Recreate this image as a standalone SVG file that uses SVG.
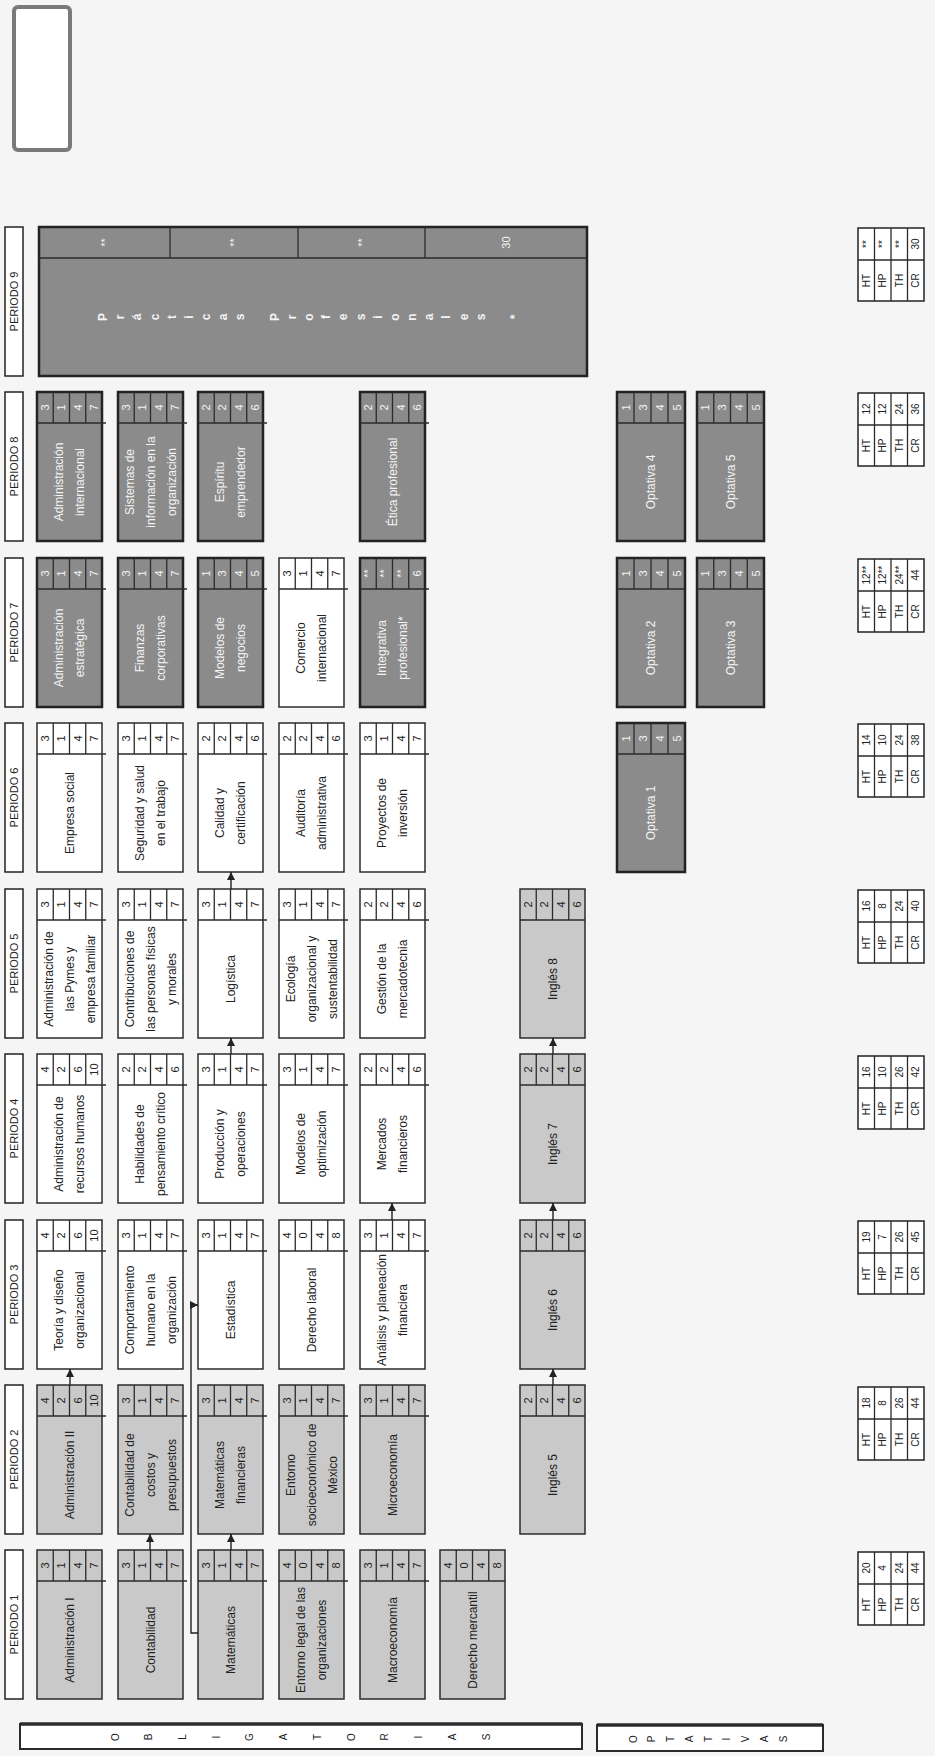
<svg xmlns="http://www.w3.org/2000/svg" width="935" height="1756" viewBox="0 0 935 1756">
<defs>
<style>
.bg{fill:#f5f5f5}
.bx{stroke:#2b2b2b;stroke-width:1.5}
.lt{fill:#c9c9c9}
.wt{fill:#ffffff}
.dk{fill:#8b8b8b;stroke:#232323;stroke-width:2.5}
.ln{stroke:#2b2b2b;stroke-width:1.3;fill:none}
.lbx{fill:#ffffff;stroke:#222;stroke-width:1.5}
text{font-family:"Liberation Sans",Arial,sans-serif;text-anchor:middle;dominant-baseline:central;fill:#222}
.n{font-size:11px}
.nm{font-size:12px}
.w{fill:#f4f4f4}
.pl{font-size:11px}
.sp{font-size:12px;font-weight:bold}
.ct{font-size:10px}
.conn{stroke:#222;stroke-width:1.4;fill:none;marker-end:url(#ah)}
</style>
<marker id="ah" markerWidth="8" markerHeight="8" refX="8" refY="4" orient="auto" markerUnits="userSpaceOnUse"><path d="M0,0 L8,4 L0,8 z" fill="#222"/></marker>
</defs>
<rect class="bg" x="0" y="0" width="935" height="1756"/>
<g id="marco-superior"><rect x="14" y="7" width="56" height="143" rx="4" fill="#ffffff" stroke="#7a7a7a" stroke-width="4"/></g>

<!-- Period labels -->
<g id="etiquetas-periodo">
<rect class="lbx" x="5" y="227" width="18" height="149"/><text class="pl" transform="translate(14 301.5) rotate(-90)">PERIODO 9</text>
<rect class="lbx" x="5" y="392" width="18" height="149"/><text class="pl" transform="translate(14 466.5) rotate(-90)">PERIODO 8</text>
<rect class="lbx" x="5" y="558" width="18" height="149"/><text class="pl" transform="translate(14 632.5) rotate(-90)">PERIODO 7</text>
<rect class="lbx" x="5" y="723" width="18" height="149"/><text class="pl" transform="translate(14 797.5) rotate(-90)">PERIODO 6</text>
<rect class="lbx" x="5" y="889" width="18" height="149"/><text class="pl" transform="translate(14 963.5) rotate(-90)">PERIODO 5</text>
<rect class="lbx" x="5" y="1054" width="18" height="149"/><text class="pl" transform="translate(14 1128.5) rotate(-90)">PERIODO 4</text>
<rect class="lbx" x="5" y="1220" width="18" height="149"/><text class="pl" transform="translate(14 1294.5) rotate(-90)">PERIODO 3</text>
<rect class="lbx" x="5" y="1385" width="18" height="149"/><text class="pl" transform="translate(14 1459.5) rotate(-90)">PERIODO 2</text>
<rect class="lbx" x="5" y="1550" width="18" height="149"/><text class="pl" transform="translate(14 1624.5) rotate(-90)">PERIODO 1</text>
</g>

<!-- PERIODO 9 -->
<g id="practicas-profesionales">
<rect class="dk" x="39" y="227" width="548" height="149"/>
<path class="ln" d="M39 258H587M170 227v31M298 227v31M425 227v31" stroke-width="1.8"/>
<text class="n w" transform="translate(104.5 242.5) rotate(-90)">**</text>
<text class="n w" transform="translate(234 242.5) rotate(-90)">**</text>
<text class="n w" transform="translate(361.5 242.5) rotate(-90)">**</text>
<text class="n w" transform="translate(506 242.5) rotate(-90)">30</text>
<text class="sp w" transform="translate(103 317) rotate(-90)">P</text>
<text class="sp w" transform="translate(120.2 317) rotate(-90)">r</text>
<text class="sp w" transform="translate(137.3 317) rotate(-90)">á</text>
<text class="sp w" transform="translate(154.5 317) rotate(-90)">c</text>
<text class="sp w" transform="translate(171.7 317) rotate(-90)">t</text>
<text class="sp w" transform="translate(188.8 317) rotate(-90)">i</text>
<text class="sp w" transform="translate(206 317) rotate(-90)">c</text>
<text class="sp w" transform="translate(223.2 317) rotate(-90)">a</text>
<text class="sp w" transform="translate(240.4 317) rotate(-90)">s</text>
<text class="sp w" transform="translate(274.7 317) rotate(-90)">P</text>
<text class="sp w" transform="translate(291.9 317) rotate(-90)">r</text>
<text class="sp w" transform="translate(309 317) rotate(-90)">o</text>
<text class="sp w" transform="translate(326.2 317) rotate(-90)">f</text>
<text class="sp w" transform="translate(343.4 317) rotate(-90)">e</text>
<text class="sp w" transform="translate(360.5 317) rotate(-90)">s</text>
<text class="sp w" transform="translate(377.7 317) rotate(-90)">i</text>
<text class="sp w" transform="translate(394.9 317) rotate(-90)">o</text>
<text class="sp w" transform="translate(412.1 317) rotate(-90)">n</text>
<text class="sp w" transform="translate(429.2 317) rotate(-90)">a</text>
<text class="sp w" transform="translate(446.4 317) rotate(-90)">l</text>
<text class="sp w" transform="translate(463.6 317) rotate(-90)">e</text>
<text class="sp w" transform="translate(480.7 317) rotate(-90)">s</text>
<text class="sp w" transform="translate(515 317) rotate(-90)">*</text>
</g>

<!-- PERIODO 8 -->
<g id="administracion-internacional">
<rect class="dk" x="37" y="392" width="65" height="149"/>
<path class="ln" d="M37 423h69M53.25 392v31M69.5 392v31M85.75 392v31" stroke-width="1.8"/>
<text class="n w" transform="translate(45.1 407.5) rotate(-90)">3</text><text class="n w" transform="translate(61.4 407.5) rotate(-90)">1</text><text class="n w" transform="translate(77.6 407.5) rotate(-90)">4</text><text class="n w" transform="translate(93.9 407.5) rotate(-90)">7</text>
<text class="nm w" transform="translate(59 482) rotate(-90)">Administración</text>
<text class="nm w" transform="translate(80 482) rotate(-90)">internacional</text>
</g>
<g id="sistemas-informacion">
<rect class="dk" x="118" y="392" width="65" height="149"/>
<path class="ln" d="M118 423h69M134.25 392v31M150.5 392v31M166.75 392v31" stroke-width="1.8"/>
<text class="n w" transform="translate(126.1 407.5) rotate(-90)">3</text><text class="n w" transform="translate(142.4 407.5) rotate(-90)">1</text><text class="n w" transform="translate(158.6 407.5) rotate(-90)">4</text><text class="n w" transform="translate(174.9 407.5) rotate(-90)">7</text>
<text class="nm w" transform="translate(129.5 482) rotate(-90)">Sistemas de</text>
<text class="nm w" transform="translate(150.5 482) rotate(-90)">información en la</text>
<text class="nm w" transform="translate(171.5 482) rotate(-90)">organización</text>
</g>
<g id="espiritu-emprendedor">
<rect class="dk" x="198" y="392" width="65" height="149"/>
<path class="ln" d="M198 423h69M214.25 392v31M230.5 392v31M246.75 392v31" stroke-width="1.8"/>
<text class="n w" transform="translate(206.1 407.5) rotate(-90)">2</text><text class="n w" transform="translate(222.4 407.5) rotate(-90)">2</text><text class="n w" transform="translate(238.6 407.5) rotate(-90)">4</text><text class="n w" transform="translate(254.9 407.5) rotate(-90)">6</text>
<text class="nm w" transform="translate(220 482) rotate(-90)">Espíritu</text>
<text class="nm w" transform="translate(241 482) rotate(-90)">emprendedor</text>
</g>
<g id="etica-profesional">
<rect class="dk" x="360" y="392" width="65" height="149"/>
<path class="ln" d="M360 423h69M376.25 392v31M392.5 392v31M408.75 392v31" stroke-width="1.8"/>
<text class="n w" transform="translate(368.1 407.5) rotate(-90)">2</text><text class="n w" transform="translate(384.4 407.5) rotate(-90)">2</text><text class="n w" transform="translate(400.6 407.5) rotate(-90)">4</text><text class="n w" transform="translate(416.9 407.5) rotate(-90)">6</text>
<text class="nm w" transform="translate(392.5 482) rotate(-90)">Ética profesional</text>
</g>
<g id="optativa-4">
<rect class="dk" x="617" y="392" width="68" height="149"/>
<path class="ln" d="M617 423h68M634 392v31M651 392v31M668 392v31" stroke-width="1.8"/>
<text class="n w" transform="translate(625.5 407.5) rotate(-90)">1</text><text class="n w" transform="translate(642.5 407.5) rotate(-90)">3</text><text class="n w" transform="translate(659.5 407.5) rotate(-90)">4</text><text class="n w" transform="translate(676.5 407.5) rotate(-90)">5</text>
<text class="nm w" transform="translate(651 482) rotate(-90)">Optativa 4</text>
</g>
<g id="optativa-5">
<rect class="dk" x="697" y="392" width="67" height="149"/>
<path class="ln" d="M697 423h67M713.75 392v31M730.5 392v31M747.25 392v31" stroke-width="1.8"/>
<text class="n w" transform="translate(705.4 407.5) rotate(-90)">1</text><text class="n w" transform="translate(722.1 407.5) rotate(-90)">3</text><text class="n w" transform="translate(738.9 407.5) rotate(-90)">4</text><text class="n w" transform="translate(755.6 407.5) rotate(-90)">5</text>
<text class="nm w" transform="translate(730.5 482) rotate(-90)">Optativa 5</text>
</g>

<!-- PERIODO 7 -->
<g id="administracion-estrategica">
<rect class="dk" x="37" y="558" width="65" height="149"/>
<path class="ln" d="M37 589h69M53.25 558v31M69.5 558v31M85.75 558v31" stroke-width="1.8"/>
<text class="n w" transform="translate(45.1 573.5) rotate(-90)">3</text><text class="n w" transform="translate(61.4 573.5) rotate(-90)">1</text><text class="n w" transform="translate(77.6 573.5) rotate(-90)">4</text><text class="n w" transform="translate(93.9 573.5) rotate(-90)">7</text>
<text class="nm w" transform="translate(59 648) rotate(-90)">Administración</text>
<text class="nm w" transform="translate(80 648) rotate(-90)">estratégica</text>
</g>
<g id="finanzas-corporativas">
<rect class="dk" x="118" y="558" width="65" height="149"/>
<path class="ln" d="M118 589h69M134.25 558v31M150.5 558v31M166.75 558v31" stroke-width="1.8"/>
<text class="n w" transform="translate(126.1 573.5) rotate(-90)">3</text><text class="n w" transform="translate(142.4 573.5) rotate(-90)">1</text><text class="n w" transform="translate(158.6 573.5) rotate(-90)">4</text><text class="n w" transform="translate(174.9 573.5) rotate(-90)">7</text>
<text class="nm w" transform="translate(140 648) rotate(-90)">Finanzas</text>
<text class="nm w" transform="translate(161 648) rotate(-90)">corporativas</text>
</g>
<g id="modelos-negocios">
<rect class="dk" x="198" y="558" width="65" height="149"/>
<path class="ln" d="M198 589h69M214.25 558v31M230.5 558v31M246.75 558v31" stroke-width="1.8"/>
<text class="n w" transform="translate(206.1 573.5) rotate(-90)">1</text><text class="n w" transform="translate(222.4 573.5) rotate(-90)">3</text><text class="n w" transform="translate(238.6 573.5) rotate(-90)">4</text><text class="n w" transform="translate(254.9 573.5) rotate(-90)">5</text>
<text class="nm w" transform="translate(220 648) rotate(-90)">Modelos de</text>
<text class="nm w" transform="translate(241 648) rotate(-90)">negocios</text>
</g>
<g id="comercio-internacional">
<rect class="bx wt" x="279" y="558" width="65" height="149"/>
<path class="ln" d="M279 589h69M295.25 558v31M311.5 558v31M327.75 558v31"/>
<text class="n" transform="translate(287.1 573.5) rotate(-90)">3</text><text class="n" transform="translate(303.4 573.5) rotate(-90)">1</text><text class="n" transform="translate(319.6 573.5) rotate(-90)">4</text><text class="n" transform="translate(335.9 573.5) rotate(-90)">7</text>
<text class="nm" transform="translate(301 648) rotate(-90)">Comercio</text>
<text class="nm" transform="translate(322 648) rotate(-90)">internacional</text>
</g>
<g id="integrativa-profesional">
<rect class="dk" x="360" y="558" width="65" height="149"/>
<path class="ln" d="M360 589h69M376.25 558v31M392.5 558v31M408.75 558v31" stroke-width="1.8"/>
<text class="n w" transform="translate(368.1 573.5) rotate(-90)">**</text><text class="n w" transform="translate(384.4 573.5) rotate(-90)">**</text><text class="n w" transform="translate(400.6 573.5) rotate(-90)">**</text><text class="n w" transform="translate(416.9 573.5) rotate(-90)">6</text>
<text class="nm w" transform="translate(382 648) rotate(-90)">Integrativa</text>
<text class="nm w" transform="translate(403 648) rotate(-90)">profesional*</text>
</g>
<g id="optativa-2">
<rect class="dk" x="617" y="558" width="68" height="149"/>
<path class="ln" d="M617 589h68M634 558v31M651 558v31M668 558v31" stroke-width="1.8"/>
<text class="n w" transform="translate(625.5 573.5) rotate(-90)">1</text><text class="n w" transform="translate(642.5 573.5) rotate(-90)">3</text><text class="n w" transform="translate(659.5 573.5) rotate(-90)">4</text><text class="n w" transform="translate(676.5 573.5) rotate(-90)">5</text>
<text class="nm w" transform="translate(651 648) rotate(-90)">Optativa 2</text>
</g>
<g id="optativa-3">
<rect class="dk" x="697" y="558" width="67" height="149"/>
<path class="ln" d="M697 589h67M713.75 558v31M730.5 558v31M747.25 558v31" stroke-width="1.8"/>
<text class="n w" transform="translate(705.4 573.5) rotate(-90)">1</text><text class="n w" transform="translate(722.1 573.5) rotate(-90)">3</text><text class="n w" transform="translate(738.9 573.5) rotate(-90)">4</text><text class="n w" transform="translate(755.6 573.5) rotate(-90)">5</text>
<text class="nm w" transform="translate(730.5 648) rotate(-90)">Optativa 3</text>
</g>

<!-- PERIODO 6 -->
<g id="empresa-social">
<rect class="bx wt" x="37" y="723" width="65" height="149"/>
<path class="ln" d="M37 754h69M53.25 723v31M69.5 723v31M85.75 723v31"/>
<text class="n" transform="translate(45.1 738.5) rotate(-90)">3</text><text class="n" transform="translate(61.4 738.5) rotate(-90)">1</text><text class="n" transform="translate(77.6 738.5) rotate(-90)">4</text><text class="n" transform="translate(93.9 738.5) rotate(-90)">7</text>
<text class="nm" transform="translate(69.5 813) rotate(-90)">Empresa social</text>
</g>
<g id="seguridad-salud">
<rect class="bx wt" x="118" y="723" width="65" height="149"/>
<path class="ln" d="M118 754h69M134.25 723v31M150.5 723v31M166.75 723v31"/>
<text class="n" transform="translate(126.1 738.5) rotate(-90)">3</text><text class="n" transform="translate(142.4 738.5) rotate(-90)">1</text><text class="n" transform="translate(158.6 738.5) rotate(-90)">4</text><text class="n" transform="translate(174.9 738.5) rotate(-90)">7</text>
<text class="nm" transform="translate(140 813) rotate(-90)">Seguridad y salud</text>
<text class="nm" transform="translate(161 813) rotate(-90)">en el trabajo</text>
</g>
<g id="calidad-certificacion">
<rect class="bx wt" x="198" y="723" width="65" height="149"/>
<path class="ln" d="M198 754h69M214.25 723v31M230.5 723v31M246.75 723v31"/>
<text class="n" transform="translate(206.1 738.5) rotate(-90)">2</text><text class="n" transform="translate(222.4 738.5) rotate(-90)">2</text><text class="n" transform="translate(238.6 738.5) rotate(-90)">4</text><text class="n" transform="translate(254.9 738.5) rotate(-90)">6</text>
<text class="nm" transform="translate(220 813) rotate(-90)">Calidad y</text>
<text class="nm" transform="translate(241 813) rotate(-90)">certificación</text>
</g>
<g id="auditoria-administrativa">
<rect class="bx wt" x="279" y="723" width="65" height="149"/>
<path class="ln" d="M279 754h69M295.25 723v31M311.5 723v31M327.75 723v31"/>
<text class="n" transform="translate(287.1 738.5) rotate(-90)">2</text><text class="n" transform="translate(303.4 738.5) rotate(-90)">2</text><text class="n" transform="translate(319.6 738.5) rotate(-90)">4</text><text class="n" transform="translate(335.9 738.5) rotate(-90)">6</text>
<text class="nm" transform="translate(301 813) rotate(-90)">Auditoría</text>
<text class="nm" transform="translate(322 813) rotate(-90)">administrativa</text>
</g>
<g id="proyectos-inversion">
<rect class="bx wt" x="360" y="723" width="65" height="149"/>
<path class="ln" d="M360 754h69M376.25 723v31M392.5 723v31M408.75 723v31"/>
<text class="n" transform="translate(368.1 738.5) rotate(-90)">3</text><text class="n" transform="translate(384.4 738.5) rotate(-90)">1</text><text class="n" transform="translate(400.6 738.5) rotate(-90)">4</text><text class="n" transform="translate(416.9 738.5) rotate(-90)">7</text>
<text class="nm" transform="translate(382 813) rotate(-90)">Proyectos de</text>
<text class="nm" transform="translate(403 813) rotate(-90)">inversión</text>
</g>
<g id="optativa-1">
<rect class="dk" x="617" y="723" width="68" height="149"/>
<path class="ln" d="M617 754h68M634 723v31M651 723v31M668 723v31" stroke-width="1.8"/>
<text class="n w" transform="translate(625.5 738.5) rotate(-90)">1</text><text class="n w" transform="translate(642.5 738.5) rotate(-90)">3</text><text class="n w" transform="translate(659.5 738.5) rotate(-90)">4</text><text class="n w" transform="translate(676.5 738.5) rotate(-90)">5</text>
<text class="nm w" transform="translate(651 813) rotate(-90)">Optativa 1</text>
</g>

<!-- PERIODO 5 -->
<g id="administracion-pymes">
<rect class="bx wt" x="37" y="889" width="65" height="149"/>
<path class="ln" d="M37 920h69M53.25 889v31M69.5 889v31M85.75 889v31"/>
<text class="n" transform="translate(45.1 904.5) rotate(-90)">3</text><text class="n" transform="translate(61.4 904.5) rotate(-90)">1</text><text class="n" transform="translate(77.6 904.5) rotate(-90)">4</text><text class="n" transform="translate(93.9 904.5) rotate(-90)">7</text>
<text class="nm" transform="translate(48.5 979) rotate(-90)">Administración de</text>
<text class="nm" transform="translate(69.5 979) rotate(-90)">las Pymes y</text>
<text class="nm" transform="translate(90.5 979) rotate(-90)">empresa familiar</text>
</g>
<g id="contribuciones">
<rect class="bx wt" x="118" y="889" width="65" height="149"/>
<path class="ln" d="M118 920h69M134.25 889v31M150.5 889v31M166.75 889v31"/>
<text class="n" transform="translate(126.1 904.5) rotate(-90)">3</text><text class="n" transform="translate(142.4 904.5) rotate(-90)">1</text><text class="n" transform="translate(158.6 904.5) rotate(-90)">4</text><text class="n" transform="translate(174.9 904.5) rotate(-90)">7</text>
<text class="nm" transform="translate(129.5 979) rotate(-90)">Contribuciones de</text>
<text class="nm" transform="translate(150.5 979) rotate(-90)">las personas físicas</text>
<text class="nm" transform="translate(171.5 979) rotate(-90)">y morales</text>
</g>
<g id="logistica">
<rect class="bx wt" x="198" y="889" width="65" height="149"/>
<path class="ln" d="M198 920h69M214.25 889v31M230.5 889v31M246.75 889v31"/>
<text class="n" transform="translate(206.1 904.5) rotate(-90)">3</text><text class="n" transform="translate(222.4 904.5) rotate(-90)">1</text><text class="n" transform="translate(238.6 904.5) rotate(-90)">4</text><text class="n" transform="translate(254.9 904.5) rotate(-90)">7</text>
<text class="nm" transform="translate(230.5 979) rotate(-90)">Logística</text>
</g>
<g id="ecologia-organizacional">
<rect class="bx wt" x="279" y="889" width="65" height="149"/>
<path class="ln" d="M279 920h69M295.25 889v31M311.5 889v31M327.75 889v31"/>
<text class="n" transform="translate(287.1 904.5) rotate(-90)">3</text><text class="n" transform="translate(303.4 904.5) rotate(-90)">1</text><text class="n" transform="translate(319.6 904.5) rotate(-90)">4</text><text class="n" transform="translate(335.9 904.5) rotate(-90)">7</text>
<text class="nm" transform="translate(290.5 979) rotate(-90)">Ecología</text>
<text class="nm" transform="translate(311.5 979) rotate(-90)">organizacional y</text>
<text class="nm" transform="translate(332.5 979) rotate(-90)">sustentabilidad</text>
</g>
<g id="gestion-mercadotecnia">
<rect class="bx wt" x="360" y="889" width="65" height="149"/>
<path class="ln" d="M360 920h69M376.25 889v31M392.5 889v31M408.75 889v31"/>
<text class="n" transform="translate(368.1 904.5) rotate(-90)">2</text><text class="n" transform="translate(384.4 904.5) rotate(-90)">2</text><text class="n" transform="translate(400.6 904.5) rotate(-90)">4</text><text class="n" transform="translate(416.9 904.5) rotate(-90)">6</text>
<text class="nm" transform="translate(382 979) rotate(-90)">Gestión de la</text>
<text class="nm" transform="translate(403 979) rotate(-90)">mercadotecnia</text>
</g>
<g id="ingles-8">
<rect class="bx lt" x="520" y="889" width="65" height="149"/>
<path class="ln" d="M520 920h65M536.25 889v31M552.5 889v31M568.75 889v31"/>
<text class="n" transform="translate(528.1 904.5) rotate(-90)">2</text><text class="n" transform="translate(544.4 904.5) rotate(-90)">2</text><text class="n" transform="translate(560.6 904.5) rotate(-90)">4</text><text class="n" transform="translate(576.9 904.5) rotate(-90)">6</text>
<text class="nm" transform="translate(552.5 979) rotate(-90)">Inglés 8</text>
</g>

<!-- PERIODO 4 -->
<g id="administracion-rh">
<rect class="bx wt" x="37" y="1054" width="65" height="149"/>
<path class="ln" d="M37 1085h69M53.25 1054v31M69.5 1054v31M85.75 1054v31"/>
<text class="n" transform="translate(45.1 1069.5) rotate(-90)">4</text><text class="n" transform="translate(61.4 1069.5) rotate(-90)">2</text><text class="n" transform="translate(77.6 1069.5) rotate(-90)">6</text><text class="n" transform="translate(93.9 1069.5) rotate(-90)">10</text>
<text class="nm" transform="translate(59 1144) rotate(-90)">Administración de</text>
<text class="nm" transform="translate(80 1144) rotate(-90)">recursos humanos</text>
</g>
<g id="habilidades-pensamiento">
<rect class="bx wt" x="118" y="1054" width="65" height="149"/>
<path class="ln" d="M118 1085h69M134.25 1054v31M150.5 1054v31M166.75 1054v31"/>
<text class="n" transform="translate(126.1 1069.5) rotate(-90)">2</text><text class="n" transform="translate(142.4 1069.5) rotate(-90)">2</text><text class="n" transform="translate(158.6 1069.5) rotate(-90)">4</text><text class="n" transform="translate(174.9 1069.5) rotate(-90)">6</text>
<text class="nm" transform="translate(140 1144) rotate(-90)">Habilidades de</text>
<text class="nm" transform="translate(161 1144) rotate(-90)">pensamiento crítico</text>
</g>
<g id="produccion-operaciones">
<rect class="bx wt" x="198" y="1054" width="65" height="149"/>
<path class="ln" d="M198 1085h69M214.25 1054v31M230.5 1054v31M246.75 1054v31"/>
<text class="n" transform="translate(206.1 1069.5) rotate(-90)">3</text><text class="n" transform="translate(222.4 1069.5) rotate(-90)">1</text><text class="n" transform="translate(238.6 1069.5) rotate(-90)">4</text><text class="n" transform="translate(254.9 1069.5) rotate(-90)">7</text>
<text class="nm" transform="translate(220 1144) rotate(-90)">Producción y</text>
<text class="nm" transform="translate(241 1144) rotate(-90)">operaciones</text>
</g>
<g id="modelos-optimizacion">
<rect class="bx wt" x="279" y="1054" width="65" height="149"/>
<path class="ln" d="M279 1085h69M295.25 1054v31M311.5 1054v31M327.75 1054v31"/>
<text class="n" transform="translate(287.1 1069.5) rotate(-90)">3</text><text class="n" transform="translate(303.4 1069.5) rotate(-90)">1</text><text class="n" transform="translate(319.6 1069.5) rotate(-90)">4</text><text class="n" transform="translate(335.9 1069.5) rotate(-90)">7</text>
<text class="nm" transform="translate(301 1144) rotate(-90)">Modelos de</text>
<text class="nm" transform="translate(322 1144) rotate(-90)">optimización</text>
</g>
<g id="mercados-financieros">
<rect class="bx wt" x="360" y="1054" width="65" height="149"/>
<path class="ln" d="M360 1085h69M376.25 1054v31M392.5 1054v31M408.75 1054v31"/>
<text class="n" transform="translate(368.1 1069.5) rotate(-90)">2</text><text class="n" transform="translate(384.4 1069.5) rotate(-90)">2</text><text class="n" transform="translate(400.6 1069.5) rotate(-90)">4</text><text class="n" transform="translate(416.9 1069.5) rotate(-90)">6</text>
<text class="nm" transform="translate(382 1144) rotate(-90)">Mercados</text>
<text class="nm" transform="translate(403 1144) rotate(-90)">financieros</text>
</g>
<g id="ingles-7">
<rect class="bx lt" x="520" y="1054" width="65" height="149"/>
<path class="ln" d="M520 1085h65M536.25 1054v31M552.5 1054v31M568.75 1054v31"/>
<text class="n" transform="translate(528.1 1069.5) rotate(-90)">2</text><text class="n" transform="translate(544.4 1069.5) rotate(-90)">2</text><text class="n" transform="translate(560.6 1069.5) rotate(-90)">4</text><text class="n" transform="translate(576.9 1069.5) rotate(-90)">6</text>
<text class="nm" transform="translate(552.5 1144) rotate(-90)">Inglés 7</text>
</g>

<!-- PERIODO 3 -->
<g id="teoria-diseno">
<rect class="bx wt" x="37" y="1220" width="65" height="149"/>
<path class="ln" d="M37 1251h69M53.25 1220v31M69.5 1220v31M85.75 1220v31"/>
<text class="n" transform="translate(45.1 1235.5) rotate(-90)">4</text><text class="n" transform="translate(61.4 1235.5) rotate(-90)">2</text><text class="n" transform="translate(77.6 1235.5) rotate(-90)">6</text><text class="n" transform="translate(93.9 1235.5) rotate(-90)">10</text>
<text class="nm" transform="translate(59 1310) rotate(-90)">Teoría y diseño</text>
<text class="nm" transform="translate(80 1310) rotate(-90)">organizacional</text>
</g>
<g id="comportamiento-humano">
<rect class="bx wt" x="118" y="1220" width="65" height="149"/>
<path class="ln" d="M118 1251h69M134.25 1220v31M150.5 1220v31M166.75 1220v31"/>
<text class="n" transform="translate(126.1 1235.5) rotate(-90)">3</text><text class="n" transform="translate(142.4 1235.5) rotate(-90)">1</text><text class="n" transform="translate(158.6 1235.5) rotate(-90)">4</text><text class="n" transform="translate(174.9 1235.5) rotate(-90)">7</text>
<text class="nm" transform="translate(129.5 1310) rotate(-90)">Comportamiento</text>
<text class="nm" transform="translate(150.5 1310) rotate(-90)">humano en la</text>
<text class="nm" transform="translate(171.5 1310) rotate(-90)">organización</text>
</g>
<g id="estadistica">
<rect class="bx wt" x="198" y="1220" width="65" height="149"/>
<path class="ln" d="M198 1251h69M214.25 1220v31M230.5 1220v31M246.75 1220v31"/>
<text class="n" transform="translate(206.1 1235.5) rotate(-90)">3</text><text class="n" transform="translate(222.4 1235.5) rotate(-90)">1</text><text class="n" transform="translate(238.6 1235.5) rotate(-90)">4</text><text class="n" transform="translate(254.9 1235.5) rotate(-90)">7</text>
<text class="nm" transform="translate(230.5 1310) rotate(-90)">Estadística</text>
</g>
<g id="derecho-laboral">
<rect class="bx wt" x="279" y="1220" width="65" height="149"/>
<path class="ln" d="M279 1251h69M295.25 1220v31M311.5 1220v31M327.75 1220v31"/>
<text class="n" transform="translate(287.1 1235.5) rotate(-90)">4</text><text class="n" transform="translate(303.4 1235.5) rotate(-90)">0</text><text class="n" transform="translate(319.6 1235.5) rotate(-90)">4</text><text class="n" transform="translate(335.9 1235.5) rotate(-90)">8</text>
<text class="nm" transform="translate(311.5 1310) rotate(-90)">Derecho laboral</text>
</g>
<g id="analisis-planeacion">
<rect class="bx wt" x="360" y="1220" width="65" height="149"/>
<path class="ln" d="M360 1251h69M376.25 1220v31M392.5 1220v31M408.75 1220v31"/>
<text class="n" transform="translate(368.1 1235.5) rotate(-90)">3</text><text class="n" transform="translate(384.4 1235.5) rotate(-90)">1</text><text class="n" transform="translate(400.6 1235.5) rotate(-90)">4</text><text class="n" transform="translate(416.9 1235.5) rotate(-90)">7</text>
<text class="nm" transform="translate(382 1310) rotate(-90)">Análisis y planeación</text>
<text class="nm" transform="translate(403 1310) rotate(-90)">financiera</text>
</g>
<g id="ingles-6">
<rect class="bx lt" x="520" y="1220" width="65" height="149"/>
<path class="ln" d="M520 1251h65M536.25 1220v31M552.5 1220v31M568.75 1220v31"/>
<text class="n" transform="translate(528.1 1235.5) rotate(-90)">2</text><text class="n" transform="translate(544.4 1235.5) rotate(-90)">2</text><text class="n" transform="translate(560.6 1235.5) rotate(-90)">4</text><text class="n" transform="translate(576.9 1235.5) rotate(-90)">6</text>
<text class="nm" transform="translate(552.5 1310) rotate(-90)">Inglés 6</text>
</g>

<!-- PERIODO 2 -->
<g id="administracion-2">
<rect class="bx lt" x="37" y="1385" width="65" height="149"/>
<path class="ln" d="M37 1416h69M53.25 1385v31M69.5 1385v31M85.75 1385v31"/>
<text class="n" transform="translate(45.1 1400.5) rotate(-90)">4</text><text class="n" transform="translate(61.4 1400.5) rotate(-90)">2</text><text class="n" transform="translate(77.6 1400.5) rotate(-90)">6</text><text class="n" transform="translate(93.9 1400.5) rotate(-90)">10</text>
<text class="nm" transform="translate(69.5 1475) rotate(-90)">Administración II</text>
</g>
<g id="contabilidad-costos">
<rect class="bx lt" x="118" y="1385" width="65" height="149"/>
<path class="ln" d="M118 1416h69M134.25 1385v31M150.5 1385v31M166.75 1385v31"/>
<text class="n" transform="translate(126.1 1400.5) rotate(-90)">3</text><text class="n" transform="translate(142.4 1400.5) rotate(-90)">1</text><text class="n" transform="translate(158.6 1400.5) rotate(-90)">4</text><text class="n" transform="translate(174.9 1400.5) rotate(-90)">7</text>
<text class="nm" transform="translate(129.5 1475) rotate(-90)">Contabilidad de</text>
<text class="nm" transform="translate(150.5 1475) rotate(-90)">costos y</text>
<text class="nm" transform="translate(171.5 1475) rotate(-90)">presupuestos</text>
</g>
<g id="matematicas-financieras">
<rect class="bx lt" x="198" y="1385" width="65" height="149"/>
<path class="ln" d="M198 1416h69M214.25 1385v31M230.5 1385v31M246.75 1385v31"/>
<text class="n" transform="translate(206.1 1400.5) rotate(-90)">3</text><text class="n" transform="translate(222.4 1400.5) rotate(-90)">1</text><text class="n" transform="translate(238.6 1400.5) rotate(-90)">4</text><text class="n" transform="translate(254.9 1400.5) rotate(-90)">7</text>
<text class="nm" transform="translate(220 1475) rotate(-90)">Matemáticas</text>
<text class="nm" transform="translate(241 1475) rotate(-90)">financieras</text>
</g>
<g id="entorno-socioeconomico">
<rect class="bx lt" x="279" y="1385" width="65" height="149"/>
<path class="ln" d="M279 1416h69M295.25 1385v31M311.5 1385v31M327.75 1385v31"/>
<text class="n" transform="translate(287.1 1400.5) rotate(-90)">3</text><text class="n" transform="translate(303.4 1400.5) rotate(-90)">1</text><text class="n" transform="translate(319.6 1400.5) rotate(-90)">4</text><text class="n" transform="translate(335.9 1400.5) rotate(-90)">7</text>
<text class="nm" transform="translate(290.5 1475) rotate(-90)">Entorno</text>
<text class="nm" transform="translate(311.5 1475) rotate(-90)">socioeconómico de</text>
<text class="nm" transform="translate(332.5 1475) rotate(-90)">México</text>
</g>
<g id="microeconomia">
<rect class="bx lt" x="360" y="1385" width="65" height="149"/>
<path class="ln" d="M360 1416h69M376.25 1385v31M392.5 1385v31M408.75 1385v31"/>
<text class="n" transform="translate(368.1 1400.5) rotate(-90)">3</text><text class="n" transform="translate(384.4 1400.5) rotate(-90)">1</text><text class="n" transform="translate(400.6 1400.5) rotate(-90)">4</text><text class="n" transform="translate(416.9 1400.5) rotate(-90)">7</text>
<text class="nm" transform="translate(392.5 1475) rotate(-90)">Microeconomía</text>
</g>
<g id="ingles-5">
<rect class="bx lt" x="520" y="1385" width="65" height="149"/>
<path class="ln" d="M520 1416h65M536.25 1385v31M552.5 1385v31M568.75 1385v31"/>
<text class="n" transform="translate(528.1 1400.5) rotate(-90)">2</text><text class="n" transform="translate(544.4 1400.5) rotate(-90)">2</text><text class="n" transform="translate(560.6 1400.5) rotate(-90)">4</text><text class="n" transform="translate(576.9 1400.5) rotate(-90)">6</text>
<text class="nm" transform="translate(552.5 1475) rotate(-90)">Inglés 5</text>
</g>

<!-- PERIODO 1 -->
<g id="administracion-1">
<rect class="bx lt" x="37" y="1550" width="65" height="149"/>
<path class="ln" d="M37 1581h69M53.25 1550v31M69.5 1550v31M85.75 1550v31"/>
<text class="n" transform="translate(45.1 1565.5) rotate(-90)">3</text><text class="n" transform="translate(61.4 1565.5) rotate(-90)">1</text><text class="n" transform="translate(77.6 1565.5) rotate(-90)">4</text><text class="n" transform="translate(93.9 1565.5) rotate(-90)">7</text>
<text class="nm" transform="translate(69.5 1640) rotate(-90)">Administración I</text>
</g>
<g id="contabilidad">
<rect class="bx lt" x="118" y="1550" width="65" height="149"/>
<path class="ln" d="M118 1581h69M134.25 1550v31M150.5 1550v31M166.75 1550v31"/>
<text class="n" transform="translate(126.1 1565.5) rotate(-90)">3</text><text class="n" transform="translate(142.4 1565.5) rotate(-90)">1</text><text class="n" transform="translate(158.6 1565.5) rotate(-90)">4</text><text class="n" transform="translate(174.9 1565.5) rotate(-90)">7</text>
<text class="nm" transform="translate(150.5 1640) rotate(-90)">Contabilidad</text>
</g>
<g id="matematicas">
<rect class="bx lt" x="198" y="1550" width="65" height="149"/>
<path class="ln" d="M198 1581h69M214.25 1550v31M230.5 1550v31M246.75 1550v31"/>
<text class="n" transform="translate(206.1 1565.5) rotate(-90)">3</text><text class="n" transform="translate(222.4 1565.5) rotate(-90)">1</text><text class="n" transform="translate(238.6 1565.5) rotate(-90)">4</text><text class="n" transform="translate(254.9 1565.5) rotate(-90)">7</text>
<text class="nm" transform="translate(230.5 1640) rotate(-90)">Matemáticas</text>
</g>
<g id="entorno-legal">
<rect class="bx lt" x="279" y="1550" width="65" height="149"/>
<path class="ln" d="M279 1581h69M295.25 1550v31M311.5 1550v31M327.75 1550v31"/>
<text class="n" transform="translate(287.1 1565.5) rotate(-90)">4</text><text class="n" transform="translate(303.4 1565.5) rotate(-90)">0</text><text class="n" transform="translate(319.6 1565.5) rotate(-90)">4</text><text class="n" transform="translate(335.9 1565.5) rotate(-90)">8</text>
<text class="nm" transform="translate(301 1640) rotate(-90)">Entorno legal de las</text>
<text class="nm" transform="translate(322 1640) rotate(-90)">organizaciones</text>
</g>
<g id="macroeconomia">
<rect class="bx lt" x="360" y="1550" width="65" height="149"/>
<path class="ln" d="M360 1581h69M376.25 1550v31M392.5 1550v31M408.75 1550v31"/>
<text class="n" transform="translate(368.1 1565.5) rotate(-90)">3</text><text class="n" transform="translate(384.4 1565.5) rotate(-90)">1</text><text class="n" transform="translate(400.6 1565.5) rotate(-90)">4</text><text class="n" transform="translate(416.9 1565.5) rotate(-90)">7</text>
<text class="nm" transform="translate(392.5 1640) rotate(-90)">Macroeconomía</text>
</g>
<g id="derecho-mercantil">
<rect class="bx lt" x="440" y="1550" width="65" height="149"/>
<path class="ln" d="M440 1581h65M456.25 1550v31M472.5 1550v31M488.75 1550v31"/>
<text class="n" transform="translate(448.1 1565.5) rotate(-90)">4</text><text class="n" transform="translate(464.4 1565.5) rotate(-90)">0</text><text class="n" transform="translate(480.6 1565.5) rotate(-90)">4</text><text class="n" transform="translate(496.9 1565.5) rotate(-90)">8</text>
<text class="nm" transform="translate(472.5 1640) rotate(-90)">Derecho mercantil</text>
</g>

<!-- Credit tables -->
<g id="creditos-p9">
<rect class="lbx" x="858" y="228" width="66" height="73"/>
<path class="ln" d="M858 260h66M874.5 228v73M891 228v73M907.5 228v73"/>
<text class="ct" transform="translate(866.25 244) rotate(-90)">**</text><text class="ct" transform="translate(882.75 244) rotate(-90)">**</text><text class="ct" transform="translate(899.25 244) rotate(-90)">**</text><text class="ct" transform="translate(915.75 244) rotate(-90)">30</text>
<text class="ct" transform="translate(866.25 280.5) rotate(-90)">HT</text><text class="ct" transform="translate(882.75 280.5) rotate(-90)">HP</text><text class="ct" transform="translate(899.25 280.5) rotate(-90)">TH</text><text class="ct" transform="translate(915.75 280.5) rotate(-90)">CR</text>
</g>
<g id="creditos-p8">
<rect class="lbx" x="858" y="393" width="66" height="73"/>
<path class="ln" d="M858 425h66M874.5 393v73M891 393v73M907.5 393v73"/>
<text class="ct" transform="translate(866.25 409) rotate(-90)">12</text><text class="ct" transform="translate(882.75 409) rotate(-90)">12</text><text class="ct" transform="translate(899.25 409) rotate(-90)">24</text><text class="ct" transform="translate(915.75 409) rotate(-90)">36</text>
<text class="ct" transform="translate(866.25 445.5) rotate(-90)">HT</text><text class="ct" transform="translate(882.75 445.5) rotate(-90)">HP</text><text class="ct" transform="translate(899.25 445.5) rotate(-90)">TH</text><text class="ct" transform="translate(915.75 445.5) rotate(-90)">CR</text>
</g>
<g id="creditos-p7">
<rect class="lbx" x="858" y="559" width="66" height="73"/>
<path class="ln" d="M858 591h66M874.5 559v73M891 559v73M907.5 559v73"/>
<text class="ct" transform="translate(866.25 575) rotate(-90)">12**</text><text class="ct" transform="translate(882.75 575) rotate(-90)">12**</text><text class="ct" transform="translate(899.25 575) rotate(-90)">24**</text><text class="ct" transform="translate(915.75 575) rotate(-90)">44</text>
<text class="ct" transform="translate(866.25 611.5) rotate(-90)">HT</text><text class="ct" transform="translate(882.75 611.5) rotate(-90)">HP</text><text class="ct" transform="translate(899.25 611.5) rotate(-90)">TH</text><text class="ct" transform="translate(915.75 611.5) rotate(-90)">CR</text>
</g>
<g id="creditos-p6">
<rect class="lbx" x="858" y="724" width="66" height="73"/>
<path class="ln" d="M858 756h66M874.5 724v73M891 724v73M907.5 724v73"/>
<text class="ct" transform="translate(866.25 740) rotate(-90)">14</text><text class="ct" transform="translate(882.75 740) rotate(-90)">10</text><text class="ct" transform="translate(899.25 740) rotate(-90)">24</text><text class="ct" transform="translate(915.75 740) rotate(-90)">38</text>
<text class="ct" transform="translate(866.25 776.5) rotate(-90)">HT</text><text class="ct" transform="translate(882.75 776.5) rotate(-90)">HP</text><text class="ct" transform="translate(899.25 776.5) rotate(-90)">TH</text><text class="ct" transform="translate(915.75 776.5) rotate(-90)">CR</text>
</g>
<g id="creditos-p5">
<rect class="lbx" x="858" y="890" width="66" height="73"/>
<path class="ln" d="M858 922h66M874.5 890v73M891 890v73M907.5 890v73"/>
<text class="ct" transform="translate(866.25 906) rotate(-90)">16</text><text class="ct" transform="translate(882.75 906) rotate(-90)">8</text><text class="ct" transform="translate(899.25 906) rotate(-90)">24</text><text class="ct" transform="translate(915.75 906) rotate(-90)">40</text>
<text class="ct" transform="translate(866.25 942.5) rotate(-90)">HT</text><text class="ct" transform="translate(882.75 942.5) rotate(-90)">HP</text><text class="ct" transform="translate(899.25 942.5) rotate(-90)">TH</text><text class="ct" transform="translate(915.75 942.5) rotate(-90)">CR</text>
</g>
<g id="creditos-p4">
<rect class="lbx" x="858" y="1056" width="66" height="73"/>
<path class="ln" d="M858 1088h66M874.5 1056v73M891 1056v73M907.5 1056v73"/>
<text class="ct" transform="translate(866.25 1072) rotate(-90)">16</text><text class="ct" transform="translate(882.75 1072) rotate(-90)">10</text><text class="ct" transform="translate(899.25 1072) rotate(-90)">26</text><text class="ct" transform="translate(915.75 1072) rotate(-90)">42</text>
<text class="ct" transform="translate(866.25 1108.5) rotate(-90)">HT</text><text class="ct" transform="translate(882.75 1108.5) rotate(-90)">HP</text><text class="ct" transform="translate(899.25 1108.5) rotate(-90)">TH</text><text class="ct" transform="translate(915.75 1108.5) rotate(-90)">CR</text>
</g>
<g id="creditos-p3">
<rect class="lbx" x="858" y="1221" width="66" height="73"/>
<path class="ln" d="M858 1253h66M874.5 1221v73M891 1221v73M907.5 1221v73"/>
<text class="ct" transform="translate(866.25 1237) rotate(-90)">19</text><text class="ct" transform="translate(882.75 1237) rotate(-90)">7</text><text class="ct" transform="translate(899.25 1237) rotate(-90)">26</text><text class="ct" transform="translate(915.75 1237) rotate(-90)">45</text>
<text class="ct" transform="translate(866.25 1273.5) rotate(-90)">HT</text><text class="ct" transform="translate(882.75 1273.5) rotate(-90)">HP</text><text class="ct" transform="translate(899.25 1273.5) rotate(-90)">TH</text><text class="ct" transform="translate(915.75 1273.5) rotate(-90)">CR</text>
</g>
<g id="creditos-p2">
<rect class="lbx" x="858" y="1387" width="66" height="73"/>
<path class="ln" d="M858 1419h66M874.5 1387v73M891 1387v73M907.5 1387v73"/>
<text class="ct" transform="translate(866.25 1403) rotate(-90)">18</text><text class="ct" transform="translate(882.75 1403) rotate(-90)">8</text><text class="ct" transform="translate(899.25 1403) rotate(-90)">26</text><text class="ct" transform="translate(915.75 1403) rotate(-90)">44</text>
<text class="ct" transform="translate(866.25 1439.5) rotate(-90)">HT</text><text class="ct" transform="translate(882.75 1439.5) rotate(-90)">HP</text><text class="ct" transform="translate(899.25 1439.5) rotate(-90)">TH</text><text class="ct" transform="translate(915.75 1439.5) rotate(-90)">CR</text>
</g>
<g id="creditos-p1">
<rect class="lbx" x="858" y="1552" width="66" height="73"/>
<path class="ln" d="M858 1584h66M874.5 1552v73M891 1552v73M907.5 1552v73"/>
<text class="ct" transform="translate(866.25 1568) rotate(-90)">20</text><text class="ct" transform="translate(882.75 1568) rotate(-90)">4</text><text class="ct" transform="translate(899.25 1568) rotate(-90)">24</text><text class="ct" transform="translate(915.75 1568) rotate(-90)">44</text>
<text class="ct" transform="translate(866.25 1604.5) rotate(-90)">HT</text><text class="ct" transform="translate(882.75 1604.5) rotate(-90)">HP</text><text class="ct" transform="translate(899.25 1604.5) rotate(-90)">TH</text><text class="ct" transform="translate(915.75 1604.5) rotate(-90)">CR</text>
</g>

<!-- Connectors -->
<g id="conectores">
<line class="conn" x1="150" y1="1550" x2="150" y2="1534"/>
<line class="conn" x1="231" y1="1550" x2="231" y2="1534"/>
<line class="conn" x1="70" y1="1385" x2="70" y2="1369"/>
<line class="conn" x1="392" y1="1220" x2="392" y2="1203"/>
<line class="conn" x1="231" y1="1054" x2="231" y2="1038"/>
<line class="conn" x1="231" y1="889" x2="231" y2="872"/>
<line class="conn" x1="553" y1="1385" x2="553" y2="1369"/>
<line class="conn" x1="553" y1="1220" x2="553" y2="1203"/>
<line class="conn" x1="553" y1="1054" x2="553" y2="1038"/>
<path class="conn" d="M198 1633H191V1305H198"/>
</g>

<!-- Category labels -->
<g id="obligatorias">
<rect x="20" y="1724" width="562" height="25" fill="#ffffff" stroke="#2b2b2b" stroke-width="2"/>
<line x1="20" y1="1724" x2="582" y2="1724" stroke="#2b2b2b" stroke-width="3.5"/>
<text class="ct" transform="translate(115 1737) rotate(-90)">O</text>
<text class="ct" transform="translate(148.7 1737) rotate(-90)">B</text>
<text class="ct" transform="translate(182.5 1737) rotate(-90)">L</text>
<text class="ct" transform="translate(216.2 1737) rotate(-90)">I</text>
<text class="ct" transform="translate(249.9 1737) rotate(-90)">G</text>
<text class="ct" transform="translate(283.6 1737) rotate(-90)">A</text>
<text class="ct" transform="translate(317.4 1737) rotate(-90)">T</text>
<text class="ct" transform="translate(351.1 1737) rotate(-90)">O</text>
<text class="ct" transform="translate(384.8 1737) rotate(-90)">R</text>
<text class="ct" transform="translate(418.5 1737) rotate(-90)">I</text>
<text class="ct" transform="translate(452.3 1737) rotate(-90)">A</text>
<text class="ct" transform="translate(486 1737) rotate(-90)">S</text>
</g>
<g id="optativas">
<rect x="597" y="1725" width="226" height="26" fill="#ffffff" stroke="#2b2b2b" stroke-width="2"/>
<line x1="597" y1="1725" x2="823" y2="1725" stroke="#2b2b2b" stroke-width="3.5"/>
<text class="ct" transform="translate(633 1739) rotate(-90)">O</text>
<text class="ct" transform="translate(651.75 1739) rotate(-90)">P</text>
<text class="ct" transform="translate(670.5 1739) rotate(-90)">T</text>
<text class="ct" transform="translate(689.25 1739) rotate(-90)">A</text>
<text class="ct" transform="translate(708 1739) rotate(-90)">T</text>
<text class="ct" transform="translate(726.75 1739) rotate(-90)">I</text>
<text class="ct" transform="translate(745.5 1739) rotate(-90)">V</text>
<text class="ct" transform="translate(764.25 1739) rotate(-90)">A</text>
<text class="ct" transform="translate(783 1739) rotate(-90)">S</text>
</g>
</svg>
